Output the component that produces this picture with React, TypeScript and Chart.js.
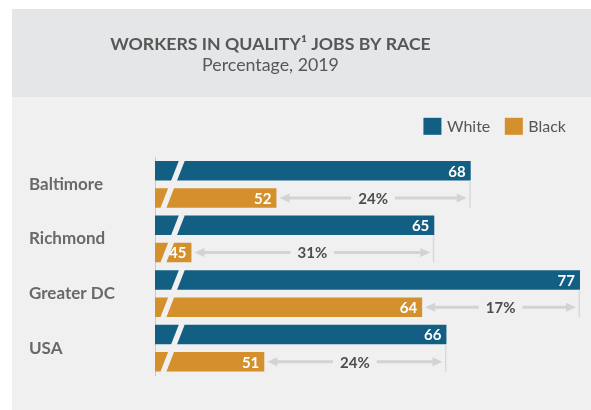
import React, { useEffect, useRef } from "react";
import { Chart, registerables } from "chart.js";

Chart.register(...registerables);

const CATEGORIES = ["Baltimore", "Richmond", "Greater DC", "USA"];
const SERIES = ["White", "Black"];
const WHITE_VALUES = [68, 65, 77, 66];
const BLACK_VALUES = [52, 45, 64, 51];
const GAP_LABELS = ["24%", "31%", "17%", "24%"];
const TITLE = "WORKERS IN QUALITY\u00B9 JOBS BY RACE";
const SUBTITLE = "Percentage, 2019";
const X_MIN = 42;
const X_MAX = 77;
const BREAK_AT = 43.45;

const BLUE = "#135f83";
const ORANGE = "#d4902c";
const BG = "#f0f0f0";
const HEADER_BG = "#e5e6e8";
const FONT = "Lato, 'Open Sans', sans-serif";

const decorPlugin = {
  id: "decor",
  beforeDraw(chart: any) {
    const { ctx, width, height } = chart;
    ctx.save();
    ctx.fillStyle = "#ffffff";
    ctx.fillRect(0, 0, width, height);
    ctx.fillStyle = HEADER_BG;
    ctx.fillRect(12, 9, width - 12, 88.5);
    ctx.fillStyle = BG;
    ctx.fillRect(12, 97.5, width - 12, height - 97.5);

    ctx.fillStyle = "#575757";
    ctx.textAlign = "center";
    ctx.textBaseline = "alphabetic";
    ctx.font = `bold 17.7px ${FONT}`;
    ctx.fillText(TITLE, 270.5, 49.5);
    ctx.font = `17.8px ${FONT}`;
    ctx.fillText(SUBTITLE, 270.5, 71);

    // legend
    ctx.font = `16px ${FONT}`;
    const colors = [BLUE, ORANGE];
    const box = 18;
    const gapText = 5.5;
    const spacing = 14.5;
    const widths = SERIES.map((s) => ctx.measureText(s).width);
    let total = 0;
    widths.forEach((w, i) => {
      total += box + gapText + w + (i > 0 ? spacing : 0);
    });
    let x = 566 - total;
    const yMid = 126.3;
    ctx.textAlign = "left";
    ctx.textBaseline = "middle";
    SERIES.forEach((s, i) => {
      ctx.fillStyle = colors[i];
      ctx.fillRect(x, yMid - 8.5, box, 17);
      ctx.fillStyle = "#555555";
      ctx.fillText(s, x + box + gapText, yMid + 0.5);
      x += box + gapText + widths[i] + spacing;
    });
    ctx.restore();
  },
  afterDatasetsDraw(chart: any) {
    const { ctx } = chart;
    const xs = chart.scales.x;
    const m0 = chart.getDatasetMeta(0);
    const m1 = chart.getDatasetMeta(1);
    ctx.save();
    CATEGORIES.forEach((_, i) => {
      const w: any = m0.data[i];
      const b: any = m1.data[i];
      const h = w.height;
      const yTop = w.y - h / 2 - 1;
      const yBot = b.y + h / 2 + 1;
      const yMid = (yTop + yBot) / 2;
      const xc = xs.getPixelForValue(BREAK_AT);
      const k = 0.39;
      // break slash
      ctx.strokeStyle = BG;
      ctx.lineWidth = 5.5;
      ctx.lineCap = "butt";
      ctx.beginPath();
      ctx.moveTo(xc + k * (yMid - yTop), yTop);
      ctx.lineTo(xc - k * (yBot - yMid), yBot);
      ctx.stroke();

      // vertical reference line at white bar end
      ctx.strokeStyle = "#d9d9d9";
      ctx.lineWidth = 1.5;
      ctx.beginPath();
      ctx.moveTo(w.x - 0.75, w.y + h / 2);
      ctx.lineTo(w.x - 0.75, b.y + h / 2);
      ctx.stroke();

      // arrow
      const xL = b.x + 3;
      const xR = w.x - 4;
      const ay = b.y;
      const head = 10;
      ctx.strokeStyle = "#d3d3d3";
      ctx.fillStyle = "#d3d3d3";
      ctx.lineWidth = 3;
      ctx.beginPath();
      ctx.moveTo(xL + head - 1, ay);
      ctx.lineTo(xR - head + 1, ay);
      ctx.stroke();
      ctx.beginPath();
      ctx.moveTo(xL, ay);
      ctx.lineTo(xL + head, ay - 4.5);
      ctx.lineTo(xL + head, ay + 4.5);
      ctx.closePath();
      ctx.fill();
      ctx.beginPath();
      ctx.moveTo(xR, ay);
      ctx.lineTo(xR - head, ay - 4.5);
      ctx.lineTo(xR - head, ay + 4.5);
      ctx.closePath();
      ctx.fill();

      // gap label
      ctx.font = `bold 15px ${FONT}`;
      const label = GAP_LABELS[i];
      const tw = ctx.measureText(label).width;
      const cx = (xL + xR) / 2;
      ctx.fillStyle = BG;
      ctx.fillRect(cx - tw / 2 - 7, ay - 9, tw + 14, 18);
      ctx.fillStyle = "#4d4d4d";
      ctx.textAlign = "center";
      ctx.textBaseline = "middle";
      ctx.fillText(label, cx, ay + 1);

      // value labels
      ctx.fillStyle = "#ffffff";
      ctx.textAlign = "right";
      ctx.fillText(String(WHITE_VALUES[i]), w.x - 5, w.y + 1);
      ctx.fillText(String(BLACK_VALUES[i]), b.x - 5, b.y + 1);
    });
    ctx.restore();
  },
};

export default function App() {
  const ref = useRef<HTMLCanvasElement | null>(null);
  useEffect(() => {
    if (!ref.current) return;
    const chart = new Chart(ref.current, {
      type: "bar",
      data: {
        labels: CATEGORIES,
        datasets: [
          {
            label: SERIES[0],
            data: WHITE_VALUES,
            backgroundColor: BLUE,
            barPercentage: 0.714,
            categoryPercentage: 1,
          },
          {
            label: SERIES[1],
            data: BLACK_VALUES,
            backgroundColor: ORANGE,
            barPercentage: 0.714,
            categoryPercentage: 1,
          },
        ],
      },
      options: {
        indexAxis: "y",
        responsive: false,
        animation: false,
        layout: { padding: { left: 29, top: 157, right: 11, bottom: 34.5 } },
        plugins: {
          legend: { display: false },
          tooltip: { enabled: false },
          title: { display: false },
        },
        scales: {
          x: { display: false, min: X_MIN, max: X_MAX },
          y: {
            grid: { display: false },
            border: { display: true, color: "#c9c9c9", width: 1 },
            ticks: {
              crossAlign: "far",
              padding: 0,
              color: "#696969",
              font: { family: FONT, size: 17, weight: "bold" },
            },
            afterFit(scale: any) {
              scale.width = 126;
            },
          },
        },
      },
      plugins: [decorPlugin],
    } as any);
    return () => chart.destroy();
  }, []);
  return (
    <div style={{ position: "absolute", left: 0, top: 0, width: 591, height: 410 }}>
      <canvas ref={ref} width={591} height={410} style={{ display: "block" }} />
    </div>
  );
}
